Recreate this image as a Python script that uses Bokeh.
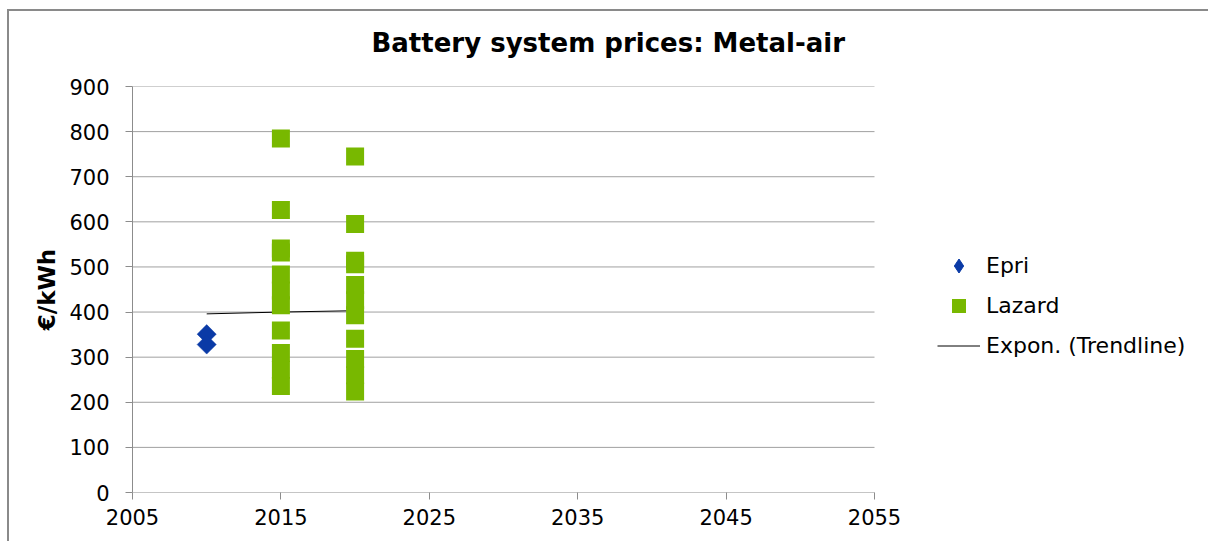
import numpy as np
from bokeh.plotting import figure
from bokeh.models import Range1d, Legend, LegendItem, FixedTicker, Title
from bokeh.embed import file_html
from bokeh.resources import INLINE

# ---- data ----
title_text = "Battery system prices: Metal-air"
y_label = "€/kWh"

epri_year = [2010, 2010]
epri_price = [351, 328]

lazard_year = [2015] * 11 + [2020] * 11
lazard_price = [785, 626, 541, 532, 483, 448, 415, 359, 309, 272, 236,
                745, 595, 514, 506, 460, 426, 393, 341, 296, 260, 224]

trend_year = [2010, 2015, 2020]
trend_price = [396, 400, 403]

x_ticks = [2005, 2015, 2025, 2035, 2045, 2055]
y_ticks = [0, 100, 200, 300, 400, 500, 600, 700, 800, 900]

FONT = "DejaVu Sans"
GREEN = "#78b800"
BLUE = "#0a3aa6"
AXIS_C = "#8c8c8c"
GRID_C = "#a0a0a0"

# layout: plotting area 742 px wide; the frame extends to the right edge so
# the legend (drawn inside the frame) is not clipped
X_MIN, X_MAX = x_ticks[0], x_ticks[-1]
Y_MIN, Y_MAX = y_ticks[0], y_ticks[-1]
AREA_W = 742
FRAME_W = 1201 - 123
x_end = X_MIN + (X_MAX - X_MIN) * FRAME_W / AREA_W

p = figure(width=1201, height=532, output_backend="svg", toolbar_location=None,
           x_range=Range1d(X_MIN, x_end), y_range=Range1d(Y_MIN, Y_MAX),
           min_border_left=123, min_border_right=0, min_border_top=75,
           min_border_bottom=51, title=None)
p.margin = (9, 0, 0, 7)
p.styles = {"border-left": "2px solid #8a8a8a", "border-top": "2px solid #8a8a8a"}
p.outline_line_color = None
p.background_fill_color = "white"
p.border_fill_color = "white"

# spacer between title and plotting area, then the title itself
spacer = Title(text=" ", text_font_size="1px", standoff=26)
p.add_layout(spacer, "above")
main_title = Title(text=title_text, align="left", offset=239, text_font=FONT,
                   text_font_size="26px", text_font_style="bold",
                   text_color="black", standoff=0)
p.add_layout(main_title, "above")

# axes
for ax in (p.xaxis[0], p.yaxis[0]):
    ax.axis_line_color = AXIS_C
    ax.major_tick_line_color = AXIS_C
    ax.major_tick_out = 7
    ax.major_tick_in = 0
    ax.minor_tick_line_color = None
    ax.major_label_text_font = FONT
    ax.major_label_text_font_size = "21px"
    ax.major_label_text_color = "black"

p.xaxis[0].axis_line_color = None
p.xaxis[0].ticker = FixedTicker(ticks=x_ticks)
p.yaxis[0].ticker = FixedTicker(ticks=y_ticks)
p.xaxis[0].major_label_standoff = 9
p.yaxis[0].major_label_standoff = 16
p.yaxis[0].axis_label = y_label
p.yaxis[0].axis_label_text_font = FONT
p.yaxis[0].axis_label_text_font_size = "23px"
p.yaxis[0].axis_label_text_font_style = "bold"
p.yaxis[0].axis_label_text_color = "black"
p.yaxis[0].axis_label_standoff = 6

p.xgrid.grid_line_color = None
p.ygrid.grid_line_color = None

# horizontal gridlines limited to the plotting area, and the x-axis line
grid_y = y_ticks[1:]
p.segment(x0=[X_MIN] * len(grid_y), x1=[X_MAX] * len(grid_y), y0=grid_y, y1=grid_y,
          line_color=GRID_C, line_width=1)
p.segment(x0=[X_MIN], x1=[X_MAX], y0=[Y_MIN], y1=[Y_MIN], line_color=AXIS_C, line_width=1)

# data renderers
r_trend = p.line(trend_year, trend_price, line_color="black", line_width=1)
r_lazard = p.scatter(lazard_year, lazard_price, marker="square", size=18,
                     fill_color=GREEN, line_color=None)
r_epri = p.scatter(epri_year, epri_price, marker="square", angle=np.pi / 4,
                   size=13.5, fill_color=BLUE, line_color=BLUE, line_width=0.5)

# legend proxy for diamond shape
r_epri_leg = p.scatter([np.nan], [np.nan], marker="diamond", size=10,
                       fill_color=BLUE, line_color=BLUE)

legend = Legend(items=[LegendItem(label="Epri", renderers=[r_epri_leg]),
                       LegendItem(label="Lazard", renderers=[r_lazard]),
                       LegendItem(label="Expon. (Trendline)", renderers=[r_trend])],
                location=(805, 129.5))
legend.glyph_width = 43
legend.glyph_height = 35
legend.label_height = 35
legend.spacing = 5
legend.padding = 0
legend.margin = 0
legend.label_standoff = 6
legend.label_text_font = FONT
legend.label_text_font_size = "22px"
legend.label_text_color = "black"
legend.border_line_color = None
legend.background_fill_alpha = 0
p.add_layout(legend, "center")

open("out.html", "w").write(file_html(p, INLINE))
